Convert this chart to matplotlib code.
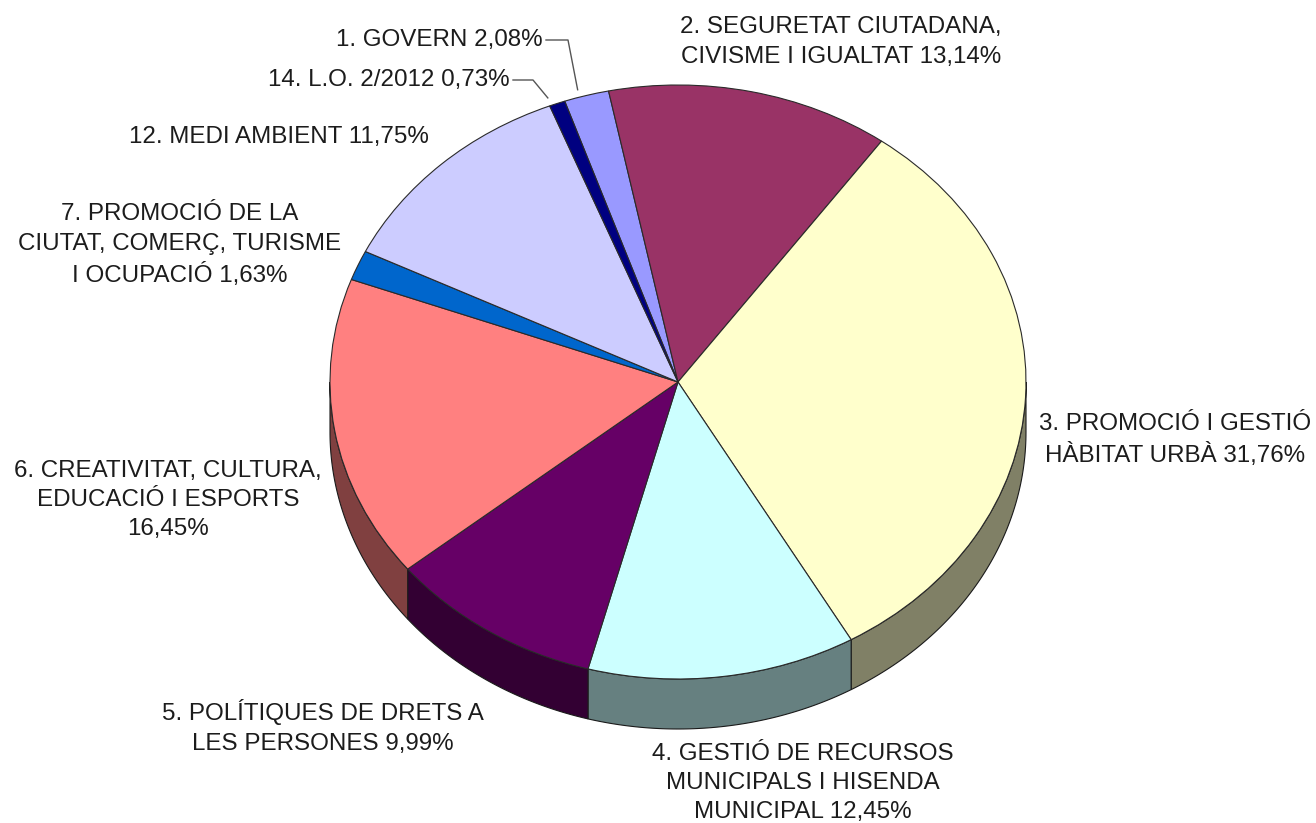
import numpy as np
import matplotlib
matplotlib.use("Agg")
import matplotlib.pyplot as plt
from matplotlib.patches import Polygon
from matplotlib.colors import to_rgb

# Budget share by area (%), clockwise from the top
labels = [
    "1. GOVERN 2,08%",
    "2. SEGURETAT CIUTADANA,\nCIVISME I IGUALTAT 13,14%",
    "3. PROMOCIÓ I GESTIÓ\nHÀBITAT URBÀ 31,76%",
    "4. GESTIÓ DE RECURSOS\nMUNICIPALS I HISENDA\nMUNICIPAL 12,45%",
    "5. POLÍTIQUES DE DRETS A\nLES PERSONES 9,99%",
    "6. CREATIVITAT, CULTURA,\nEDUCACIÓ I ESPORTS\n16,45%",
    "7. PROMOCIÓ DE LA\nCIUTAT, COMERÇ, TURISME\nI OCUPACIÓ 1,63%",
    "12. MEDI AMBIENT 11,75%",
    "14. L.O. 2/2012 0,73%",
]
values = [2.08, 13.14, 31.76, 12.45, 9.99, 16.45, 1.63, 11.75, 0.73]
colors = ["#9999FF", "#993366", "#FFFFCC", "#CCFFFF", "#660066",
          "#FF8080", "#0066CC", "#CCCCFF", "#000080"]

# layout (pixels of the 1316x823 image)
W, H = 1316, 823
CX, CY, RX, RY = 678, 382, 348, 297
DEPTH = 50 / RY
START = -19.0  # degrees, clockwise from 12 o'clock


def px(x, y):
    """pixel position -> data coords (pie radius = 1)"""
    return (x - CX) / RX, (CY - y) / RY


fig = plt.figure(figsize=(W / 100, H / 100), dpi=100)
ax = fig.add_axes([0, 0, 1, 1])

wedges, _ = ax.pie(values, colors=colors, startangle=90 - START,
                   counterclock=False,
                   wedgeprops=dict(edgecolor="#2a2a2a", linewidth=0.8))
ax.set_aspect("auto")
x0, y1 = px(0, 0)
x1, y0 = px(W, H)
ax.set_xlim(x0, x1)
ax.set_ylim(y0, y1)
ax.axis("off")

# side wall of the visible front half
total = sum(values)
bounds = START + np.concatenate([[0], np.cumsum(values)]) / total * 360
for i, c in enumerate(colors):
    a, b = max(bounds[i], 90), min(bounds[i + 1], 270)
    if b <= a:
        continue
    t = np.radians(np.linspace(a, b, 80))
    top = np.column_stack([np.sin(t), np.cos(t)])
    bot = top[::-1] - [0, DEPTH]
    dark = tuple(v * 0.5 for v in to_rgb(c))
    ax.add_patch(Polygon(np.vstack([top, bot]), closed=True, facecolor=dark,
                         edgecolor="#1a1a1a", linewidth=0.8, zorder=0.5))

txt = dict(fontsize=17.4, family="Liberation Sans", color="#1c1c1c",
           linespacing=1.42)

# label positions (pixel centres)
label_pos = {
    1: (841, 42), 2: (1175, 440), 3: (803, 783), 4: (323, 727),
    5: (168, 500), 6: (180, 245), 7: (279, 137),
}
for i, (x, y) in label_pos.items():
    ax.text(*px(x, y), labels[i], ha="center", va="center", **txt)

# small slices with leader lines
for i, (tx, ty, kx) in {0: (543, 40, 568), 8: (510, 80, 533)}.items():
    ax.text(*px(tx, ty), labels[i], ha="right", va="center", **txt)
    mid = np.radians((bounds[i] + bounds[i + 1]) / 2)
    ex, ey = np.sin(mid) * 1.02 - 0.02, np.cos(mid) * 1.02
    lx, ly = px(tx + 3, ty)
    kx_, _ = px(kx, ty)
    ax.plot([lx, kx_, ex], [ly, ly, ey], color="#555555", linewidth=1)

fig.savefig("out.png", dpi=100)
